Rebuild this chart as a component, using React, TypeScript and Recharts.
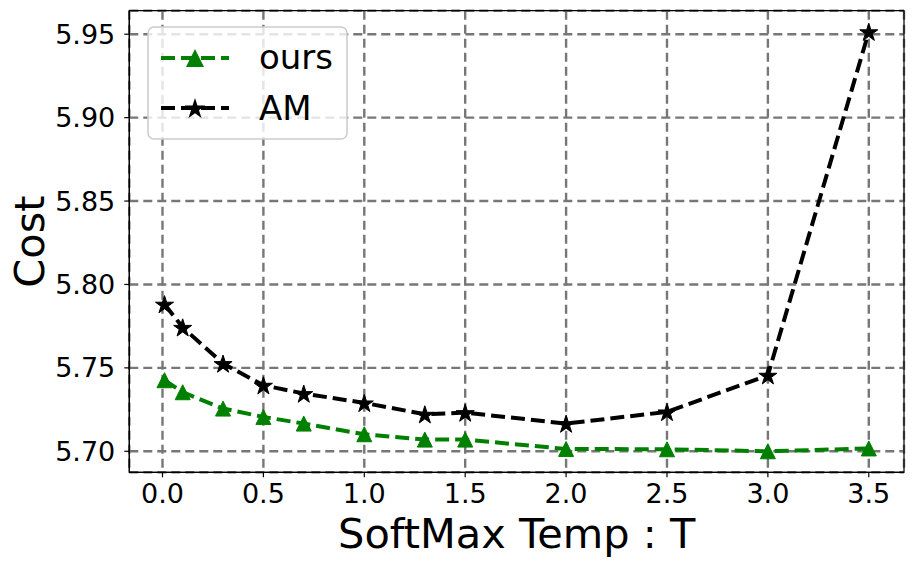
import { ComposedChart, Line, XAxis, YAxis, CartesianGrid, ReferenceArea, Label } from 'recharts'

const temps = [0.01, 0.1, 0.3, 0.5, 0.7, 1.0, 1.3, 1.5, 2.0, 2.5, 3.0, 3.5]
const oursCost = [5.7426, 5.7354, 5.7256, 5.7206, 5.7166, 5.7102, 5.707, 5.707, 5.7014, 5.7012, 5.7, 5.7017]
const amCost = [5.7882, 5.7743, 5.7526, 5.7396, 5.7346, 5.729, 5.7222, 5.7232, 5.7166, 5.7236, 5.7456, 5.9515]
const xTicks = [0, 0.5, 1.0, 1.5, 2.0, 2.5, 3.0, 3.5]
const yTicks = [5.7, 5.75, 5.8, 5.85, 5.9, 5.95]

const X_DOMAIN: [number, number] = [-0.1645, 3.6745]
const Y_DOMAIN: [number, number] = [5.6874, 5.9641]

const GREEN = '#008000'
const FONT = '"DejaVu Sans", sans-serif'

const data = temps.map((t, i) => ({ t, ours: oursCost[i], am: amCost[i] }))

function starPath(cx: number, cy: number, R: number) {
  const r = R * 0.38
  const pts: string[] = []
  for (let k = 0; k < 10; k++) {
    const rad = k % 2 === 0 ? R : r
    const a = -Math.PI / 2 + (k * Math.PI) / 5
    pts.push(`${cx + rad * Math.cos(a)},${cy + rad * Math.sin(a)}`)
  }
  return 'M' + pts.join('L') + 'Z'
}

function triPath(cx: number, cy: number, s: number) {
  return `M${cx},${cy - s}L${cx - s},${cy + s}L${cx + s},${cy + s}Z`
}

const TriangleDot = (props: any) => {
  const { cx, cy, index } = props
  if (cx == null || cy == null) return <g key={`tri-${index}`} />
  return <path key={`tri-${index}`} d={triPath(cx, cy, 7.5)} fill={GREEN} stroke={GREEN} strokeWidth={1} />
}

const StarDot = (props: any) => {
  const { cx, cy, index } = props
  if (cx == null || cy == null) return <g key={`star-${index}`} />
  return <path key={`star-${index}`} d={starPath(cx, cy + 1, 9.5)} fill="#000" stroke="#000" strokeWidth={1} />
}

function LegendBox() {
  return (
    <svg width={202} height={114} style={{ position: 'absolute', left: 147, top: 26 }}>
      <rect x={1} y={1} width={199} height={112} rx={6} fill="#fff" fillOpacity={0.8} stroke="#cccccc" strokeWidth={1.5} />
      <line x1={14} x2={82} y1={32} y2={32} stroke={GREEN} strokeWidth={4} strokeDasharray="14 6" />
      <path d={triPath(48, 32, 9)} fill={GREEN} />
      <text x={112} y={43} fontSize={34} fontFamily={FONT} fill="#000">ours</text>
      <line x1={14} x2={82} y1={82} y2={82} stroke="#000" strokeWidth={4} strokeDasharray="14 6" />
      <path d={starPath(48, 83, 11)} fill="#000" />
      <text x={112} y={94} fontSize={34} fontFamily={FONT} fill="#000">AM</text>
    </svg>
  )
}

export default function App() {
  return (
    <div style={{ position: 'relative', width: 914, height: 567, margin: -8, background: '#fff' }}>
      <ComposedChart width={914} height={567} data={data} margin={{ top: 10.7, right: 10, bottom: 0, left: 0 }}>
        <CartesianGrid stroke="#777777" strokeWidth={2.4} strokeDasharray="9 5" />
        <XAxis
          dataKey="t"
          type="number"
          domain={X_DOMAIN}
          allowDataOverflow
          ticks={xTicks}
          tickFormatter={(v) => Number(v).toFixed(1)}
          height={94.7}
          tickSize={5}
          tickMargin={7}
          stroke="#000"
          tick={{ fontSize: 27, fill: '#000', fontFamily: FONT }}
          tickLine={{ stroke: '#000', strokeWidth: 1.2 }}
          axisLine={{ stroke: '#000', strokeWidth: 1.2 }}
        >
          <Label value="SoftMax Temp : T" position="insideBottom" offset={19} style={{ fontSize: 41.5, fill: '#000', fontFamily: FONT }} />
        </XAxis>
        <YAxis
          type="number"
          domain={Y_DOMAIN}
          allowDataOverflow
          ticks={yTicks}
          tickFormatter={(v) => Number(v).toFixed(2)}
          width={129.3}
          tickSize={5}
          tickMargin={9}
          stroke="#000"
          tick={{ fontSize: 27, fill: '#000', fontFamily: FONT }}
          tickLine={{ stroke: '#000', strokeWidth: 1.2 }}
          axisLine={{ stroke: '#000', strokeWidth: 1.2 }}
        >
          <Label value="Cost" angle={-90} position="insideLeft" offset={29} style={{ fontSize: 41.5, fill: '#000', fontFamily: FONT, textAnchor: 'middle' }} />
        </YAxis>
        <ReferenceArea x1={X_DOMAIN[0]} x2={X_DOMAIN[1]} y1={Y_DOMAIN[0]} y2={Y_DOMAIN[1]} fill="none" stroke="#000" strokeWidth={1.2} ifOverflow="visible" />
        <Line type="linear" dataKey="ours" stroke={GREEN} strokeWidth={4} strokeDasharray="14 6" dot={TriangleDot} activeDot={false} isAnimationActive={false} />
        <Line type="linear" dataKey="am" stroke="#000" strokeWidth={4} strokeDasharray="14 6" dot={StarDot} activeDot={false} isAnimationActive={false} />
      </ComposedChart>
      <LegendBox />
    </div>
  )
}
